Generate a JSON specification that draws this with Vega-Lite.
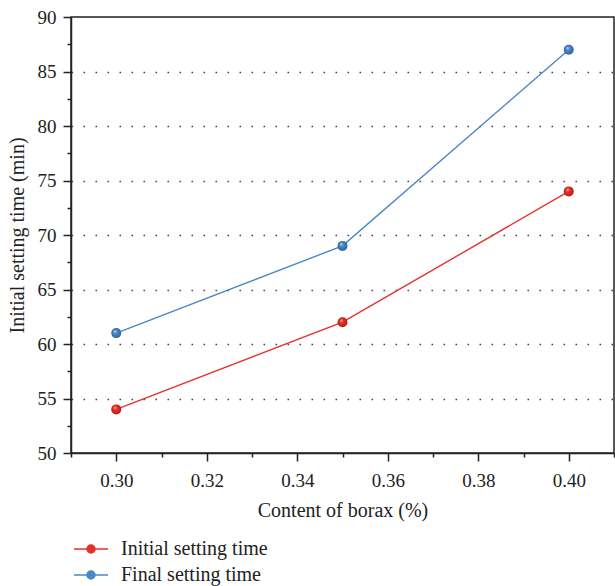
{
  "$schema": "https://vega.github.io/schema/vega-lite/v6.json",
  "width": 543,
  "height": 436,
  "autosize": {"type": "none"},
  "padding": {"left": 71, "top": 17, "right": 1, "bottom": 133},
  "background": "white",
  "config": {
    "font": "Liberation Serif",
    "view": {"stroke": "#222222", "strokeWidth": 1.5},
    "axis": {"labelFont": "Liberation Serif", "titleFont": "Liberation Serif", "labelColor": "#222222", "titleColor": "#222222", "titleFontWeight": "normal"}
  },
  "data": {
    "values": [
      {"borax": 0.30, "time": 54, "series": "Initial setting time"},
      {"borax": 0.35, "time": 62, "series": "Initial setting time"},
      {"borax": 0.40, "time": 74, "series": "Initial setting time"},
      {"borax": 0.30, "time": 61, "series": "Final setting time"},
      {"borax": 0.35, "time": 69, "series": "Final setting time"},
      {"borax": 0.40, "time": 87, "series": "Final setting time"}
    ]
  },
  "encoding": {
    "x": {
      "field": "borax", "type": "quantitative",
      "scale": {"domain": [0.29, 0.41], "nice": false, "zero": false},
      "axis": {
        "title": "Content of borax (%)",
        "values": [0.29, 0.30, 0.31, 0.32, 0.33, 0.34, 0.35, 0.36, 0.37, 0.38, 0.39, 0.40, 0.41],
        "labelExpr": "round(datum.value*100) % 2 === 0 && datum.value > 0.295 && datum.value < 0.405 ? format(datum.value, '.2f') : ''",
        "tickSize": {"condition": {"test": "round(datum.value*100) % 2 === 0", "value": 8}, "value": 4},
        "tickColor": "#222222", "tickWidth": 1.5,
        "domainColor": "#222222", "domainWidth": 1.5,
        "grid": false,
        "labelFontSize": 19, "titleFontSize": 20,
        "labelPadding": 10, "titlePadding": 10,
        "labelFlush": false, "labelOverlap": false
      }
    },
    "y": {
      "field": "time", "type": "quantitative",
      "scale": {"domain": [50, 90], "nice": false, "zero": false},
      "axis": {
        "title": "Initial setting time (min)",
        "values": [50, 52.5, 55, 57.5, 60, 62.5, 65, 67.5, 70, 72.5, 75, 77.5, 80, 82.5, 85, 87.5, 90],
        "labelExpr": "datum.value % 5 === 0 ? format(datum.value, 'd') : ''",
        "tickSize": {"condition": {"test": "datum.value % 5 === 0", "value": 8}, "value": 4},
        "tickColor": "#222222", "tickWidth": 1.5,
        "domainColor": "#222222", "domainWidth": 1.5,
        "grid": true,
        "gridColor": "#444444",
        "gridWidth": 1.6,
        "gridDash": [1.6, 10.4],
        "gridOpacity": {"condition": {"test": "datum.value % 5 === 0 && datum.value > 50 && datum.value < 90", "value": 1}, "value": 0},
        "labelFontSize": 19, "titleFontSize": 20,
        "labelPadding": 7, "titlePadding": 10,
        "labelFlush": false, "labelOverlap": false
      }
    }
  },
  "layer": [
    {
      "mark": {"type": "line", "strokeWidth": 1.4},
      "encoding": {
        "color": {
          "field": "series", "type": "nominal",
          "scale": {"domain": ["Initial setting time", "Final setting time"], "range": ["#e3322b", "#4a87c6"]},
          "legend": {
            "title": null,
            "orient": "none",
            "legendX": 9,
            "legendY": 521,
            "padding": 0,
            "symbolType": "M-1.7,0H1.7M-0.4,0A0.4,0.4,0,1,1,0.4,0A0.4,0.4,0,1,1,-0.4,0Z",
            "symbolSize": 400,
            "symbolStrokeWidth": 1.5,
            "labelFontSize": 20,
            "labelFont": "Liberation Serif",
            "labelColor": "#222222",
            "labelOffset": 19,
            "rowPadding": 5,
            "encode": {
              "symbols": {
                "update": {
                  "fill": {"scale": "color", "field": "value"},
                  "stroke": {"scale": "color", "field": "value"},
                  "opacity": {"value": 1}
                }
              }
            }
          }
        }
      }
    },
    {
      "transform": [{"filter": "datum.series === 'Initial setting time'"}],
      "mark": {
        "type": "point", "shape": "circle", "filled": true, "size": 100, "opacity": 1,
        "fill": {"gradient": "radial", "x1": 0.35, "y1": 0.3, "r1": 0, "x2": 0.5, "y2": 0.5, "r2": 0.5,
          "stops": [{"offset": 0, "color": "#ffd0cc"}, {"offset": 0.35, "color": "#e8362e"}, {"offset": 1, "color": "#b81a14"}]}
      }
    },
    {
      "transform": [{"filter": "datum.series === 'Final setting time'"}],
      "mark": {
        "type": "point", "shape": "circle", "filled": true, "size": 100, "opacity": 1,
        "fill": {"gradient": "radial", "x1": 0.35, "y1": 0.3, "r1": 0, "x2": 0.5, "y2": 0.5, "r2": 0.5,
          "stops": [{"offset": 0, "color": "#dfeaf7"}, {"offset": 0.35, "color": "#4f8cc9"}, {"offset": 1, "color": "#2c64a0"}]}
      }
    }
  ]
}
